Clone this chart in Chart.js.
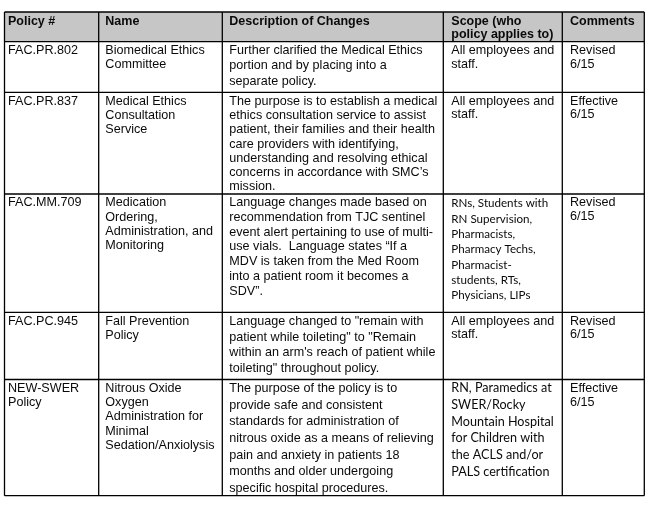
<!DOCTYPE html>
<html>
<head>
<meta charset="utf-8">
<script src="https://cdn.jsdelivr.net/npm/chart.js@4.4.0/dist/chart.umd.min.js"></script>
<style>
  body { margin: 0; background: #fff; }
  canvas { display: block; }
</style>
</head>
<body>
<canvas id="myChart" width="653" height="506"></canvas>
<script>
// Table text, one array of wrapped lines per cell
const headers = [['Policy #'], ['Name'], ['Description of Changes'], ['Scope (who', 'policy applies to)'], ['Comments']];

const policyIds = [
  ['FAC.PR.802'],
  ['FAC.PR.837'],
  ['FAC.MM.709'],
  ['FAC.PC.945'],
  ['NEW-SWER', 'Policy']
];

const policyNames = [
  ['Biomedical Ethics', 'Committee'],
  ['Medical Ethics', 'Consultation', 'Service'],
  ['Medication', 'Ordering,', 'Administration, and', 'Monitoring'],
  ['Fall Prevention', 'Policy'],
  ['Nitrous Oxide', 'Oxygen', 'Administration for', 'Minimal', 'Sedation/Anxiolysis']
];

const descriptions = [
  ['Further clarified the Medical Ethics', 'portion and by placing into a', 'separate policy.'],
  ['The purpose is to establish a medical', 'ethics consultation service to assist', 'patient, their families and their health',
   'care providers with identifying,', 'understanding and resolving ethical', 'concerns in accordance with SMC\u2019s', 'mission.'],
  ['Language changes made based on', 'recommendation from TJC sentinel', 'event alert pertaining to use of multi-',
   'use vials.  Language states \u201cIf a', 'MDV is taken from the Med Room', 'into a patient room it becomes a', 'SDV\u201d.'],
  ['Language changed to "remain with', 'patient while toileting" to "Remain', 'within an arm\'s reach of patient while',
   'toileting" throughout policy.'],
  ['The purpose of the policy is to', 'provide safe and consistent', 'standards for administration of',
   'nitrous oxide as a means of relieving', 'pain and anxiety in patients 18', 'months and older undergoing',
   'specific hospital procedures.']
];

const scopes = [
  ['All employees and', 'staff.'],
  ['All employees and', 'staff.'],
  ['RNs, Students with', 'RN Supervision,', 'Pharmacists,', 'Pharmacy Techs,', 'Pharmacist-', 'students, RTs,', 'Physicians, LIPs'],
  ['All employees and', 'staff.'],
  ['RN, Paramedics at', 'SWER/Rocky', 'Mountain Hospital', 'for Children with', 'the ACLS and/or', 'PALS certification']
];

const comments = [
  ['Revised', '6/15'],
  ['Effective', '6/15'],
  ['Revised', '6/15'],
  ['Revised', '6/15'],
  ['Effective', '6/15']
];

// Layout, in page units mapped through the chart scales
const colEdges = [4.5, 98.7, 222.3, 443.3, 562.3, 644.3];
const rowEdges = [12, 41.7, 92.3, 194, 312.3, 379.5, 495.7];
const colPad = [3.5, 6.6, 7, 8, 7.7];
const lineGaps = [
  [14, 14, 15.3, 14, 14],
  [14.3, 14.3, 14.3, 13.7, 13.7],
  [14.3, 14.3, 14.7, 15.3, 13.3],
  [14.3, 14.3, 15.9, 13.3, 13.3],
  [14.3, 14.3, 16.7, 16.9, 14]
];
// cells typed in the other (Calibri-like) face: row,col -> size and first baseline
const altFontCells = { '2,3': [11.6, 13.3], '4,3': [12.6, 12.2] };

const tablePlugin = {
  id: 'table',
  afterDraw(chart) {
    const ctx = chart.ctx;
    const xs = chart.scales.x, ys = chart.scales.y;
    const px = v => xs.getPixelForValue(v);
    const py = v => ys.getPixelForValue(v);
    ctx.save();

    // header shading
    ctx.fillStyle = '#c6c6c6';
    ctx.fillRect(px(colEdges[0]), py(rowEdges[0]), px(colEdges[5]) - px(colEdges[0]), py(rowEdges[1]) - py(rowEdges[0]));

    ctx.fillStyle = '#0a0a0a';
    ctx.textBaseline = 'alphabetic';

    // header text
    ctx.font = 'bold 12.5px "Liberation Sans", Arial, sans-serif';
    headers.forEach((lines, c) => {
      lines.forEach((t, i) => {
        ctx.fillText(t, px(colEdges[c] + colPad[c]), py(rowEdges[0] + 13 + i * 13.3));
      });
    });

    // body text
    const columns = [policyIds, policyNames, descriptions, scopes, comments];
    columns.forEach((col, c) => {
      col.forEach((lines, r) => {
        const alt = altFontCells[r + ',' + c];
        ctx.font = alt ? alt[0] + 'px Lato, "Noto Sans", sans-serif' : '12.6px "Liberation Sans", Arial, sans-serif';
        const first = alt ? alt[1] : 12.3;
        lines.forEach((t, i) => {
          ctx.fillText(t, px(colEdges[c] + colPad[c]), py(rowEdges[r + 1] + first + i * lineGaps[r][c]));
        });
      });
    });

    // grid lines
    ctx.strokeStyle = '#000';
    ctx.lineWidth = 1.3;
    ctx.beginPath();
    rowEdges.forEach(v => {
      ctx.moveTo(px(colEdges[0]), py(v));
      ctx.lineTo(px(colEdges[5]), py(v));
    });
    colEdges.forEach(v => {
      ctx.moveTo(px(v), py(rowEdges[0]));
      ctx.lineTo(px(v), py(rowEdges[6]));
    });
    ctx.stroke();
    ctx.restore();
  }
};

const ctx = document.getElementById('myChart').getContext('2d');
const myChart = new Chart(ctx, {
  type: 'scatter',
  data: { datasets: [{ data: [], pointRadius: 0 }] },
  options: {
    responsive: false,
    animation: false,
    layout: { padding: 0 },
    plugins: { legend: { display: false }, tooltip: { enabled: false } },
    scales: {
      x: { type: 'linear', min: 0, max: 653, display: false },
      y: { type: 'linear', min: 0, max: 506, reverse: true, display: false }
    }
  },
  plugins: [tablePlugin]
});
</script>
</body>
</html>
